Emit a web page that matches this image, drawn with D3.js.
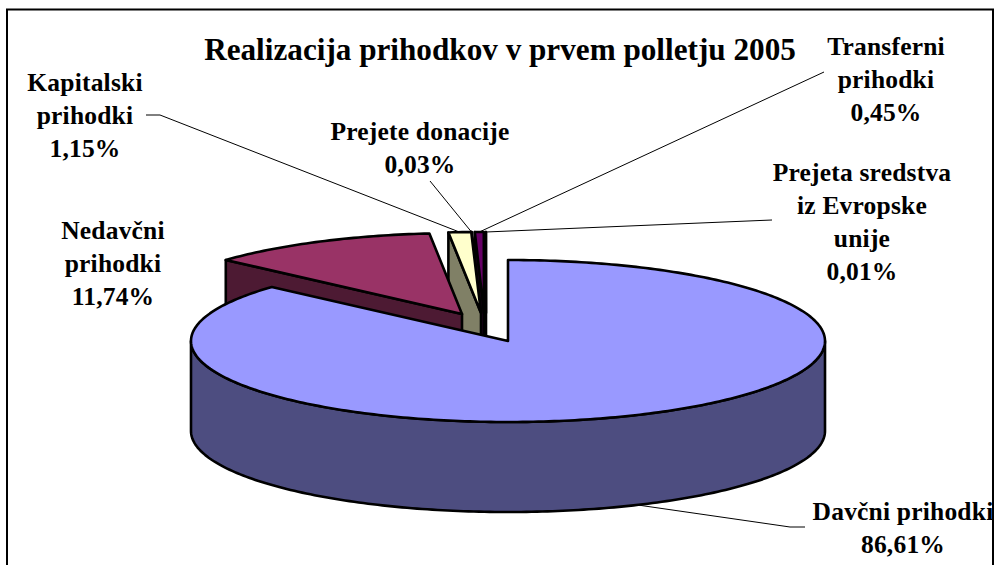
<!DOCTYPE html>
<html><head><meta charset="utf-8">
<script src="https://cdn.jsdelivr.net/npm/d3@7"></script>
<style>html,body{margin:0;padding:0;background:#fff}svg{display:block}</style>
</head><body><svg id="c" width="994" height="565"></svg>
<script>
const categories = ["Davčni prihodki","Nedavčni prihodki","Kapitalski prihodki","Prejete donacije","Transferni prihodki","Prejeta sredstva iz Evropske unije"];
const shares = [86.61,11.74,1.15,0.03,0.45,0.01];
const valueLabels = ["86,61%","11,74%","1,15%","0,03%","0,45%","0,01%"];
const labelLines = [["Davčni prihodki"],["Nedavčni","prihodki"],["Kapitalski","prihodki"],["Prejete donacije"],["Transferni","prihodki"],["Prejeta sredstva","iz Evropske","unije"]];
const topColors = ["#9999ff","#993366","#ffffcc","#ddddaa","#660066","#111111"];
const wallColors = ["#4d4d80","#4d1a33","#808066","#808066","#330033","#000000"];
const title = "Realizacija prihodkov v prvem polletju 2005";

const W=994,H=565,depth=90;
const x=d3.scaleLinear().domain([-1,1]).range([191,825]);
const y=d3.scaleLinear().domain([-1,1]).range([260,422]);
const explode=[[0,0],[-46,-27],[-27,-28],[-27,-28],[-24,-28],[-22,-28]];
const labelPos=[[903,520],[113,239],[85,91],[420,140],[886,55],[862,181]];
const leaderFrom=[[[805,527],[790,527]],null,[[146,115],[160,115]],[[430,181]],[[824,72]],[[772,220]]];

const pie=d3.pie().sort(null).value(d=>d).startAngle(0).endAngle(2*Math.PI);
const arcs=pie(shares);
const pt=(a,dx=0,dy=0,r=1)=>[x(r*Math.sin(a))+dx,y(-r*Math.cos(a))+dy];
const line=d3.line();
const svg=d3.select("#c");

svg.append("rect").attr("x",7).attr("y",9.5).attr("width",986).attr("height",H+20)
   .attr("fill","#fff").attr("stroke","#000").attr("stroke-width",2);

const sample=(a0,a1)=>{const n=Math.max(2,Math.ceil(Math.abs(a1-a0)*60));return d3.range(n+1).map(i=>a0+(a1-a0)*i/n);};
const sw=2.6;
const paint=(pts,fill,w=sw)=>svg.append("path").attr("d",line(pts)+"Z").attr("fill",fill)
   .attr("stroke","#000").attr("stroke-width",w).attr("stroke-linejoin","round");

// exploded slices, back to front
[5,4,3,2,1].forEach(i=>{
  const d=arcs[i],[dx,dy]=explode[i];
  const c=pt(0,dx,dy,0),o=pt(d.startAngle,dx,dy);
  paint([o,c,[c[0],c[1]+depth],[o[0],o[1]+depth]],wallColors[i]);
  paint([c,...sample(d.startAngle,d.endAngle).map(a=>pt(a,dx,dy))],topColors[i]);
});

// main slice
const m=arcs[0];
const front=sample(Math.PI/2,3*Math.PI/2).map(a=>pt(a));
paint([...front,...front.slice().reverse().map(p=>[p[0],p[1]+depth])],wallColors[0]);
paint([pt(0,0,0,0),...sample(m.startAngle,m.endAngle).map(a=>pt(a))],topColors[0]);

// leader lines
arcs.forEach((d,i)=>{
  if(!leaderFrom[i])return;
  const [dx,dy]=explode[i],mid=(d.startAngle+d.endAngle)/2;
  const e=pt(mid,dx,dy);
  if(i===0)e[1]+=depth;
  svg.append("path").attr("d",line([...leaderFrom[i],e])).attr("fill","none").attr("stroke","#000").attr("stroke-width",1);
});

// text
const font="'Liberation Serif','Times New Roman',serif";
svg.append("text").attr("x",500).attr("y",60).attr("text-anchor","middle")
  .attr("font-family",font).attr("font-weight","bold").attr("font-size",31.2).text(title);
categories.forEach((c,i)=>{
  const t=svg.append("text").attr("text-anchor","middle").attr("font-family",font)
    .attr("font-weight","bold").attr("font-size",25.5).attr("letter-spacing",0.2);
  const [lx,ly]=labelPos[i];
  [...labelLines[i],valueLabels[i]].forEach((s,k)=>{
    t.append("tspan").attr("x",lx).attr("y",ly+k*33).text(s);
  });
});
</script></body></html>
